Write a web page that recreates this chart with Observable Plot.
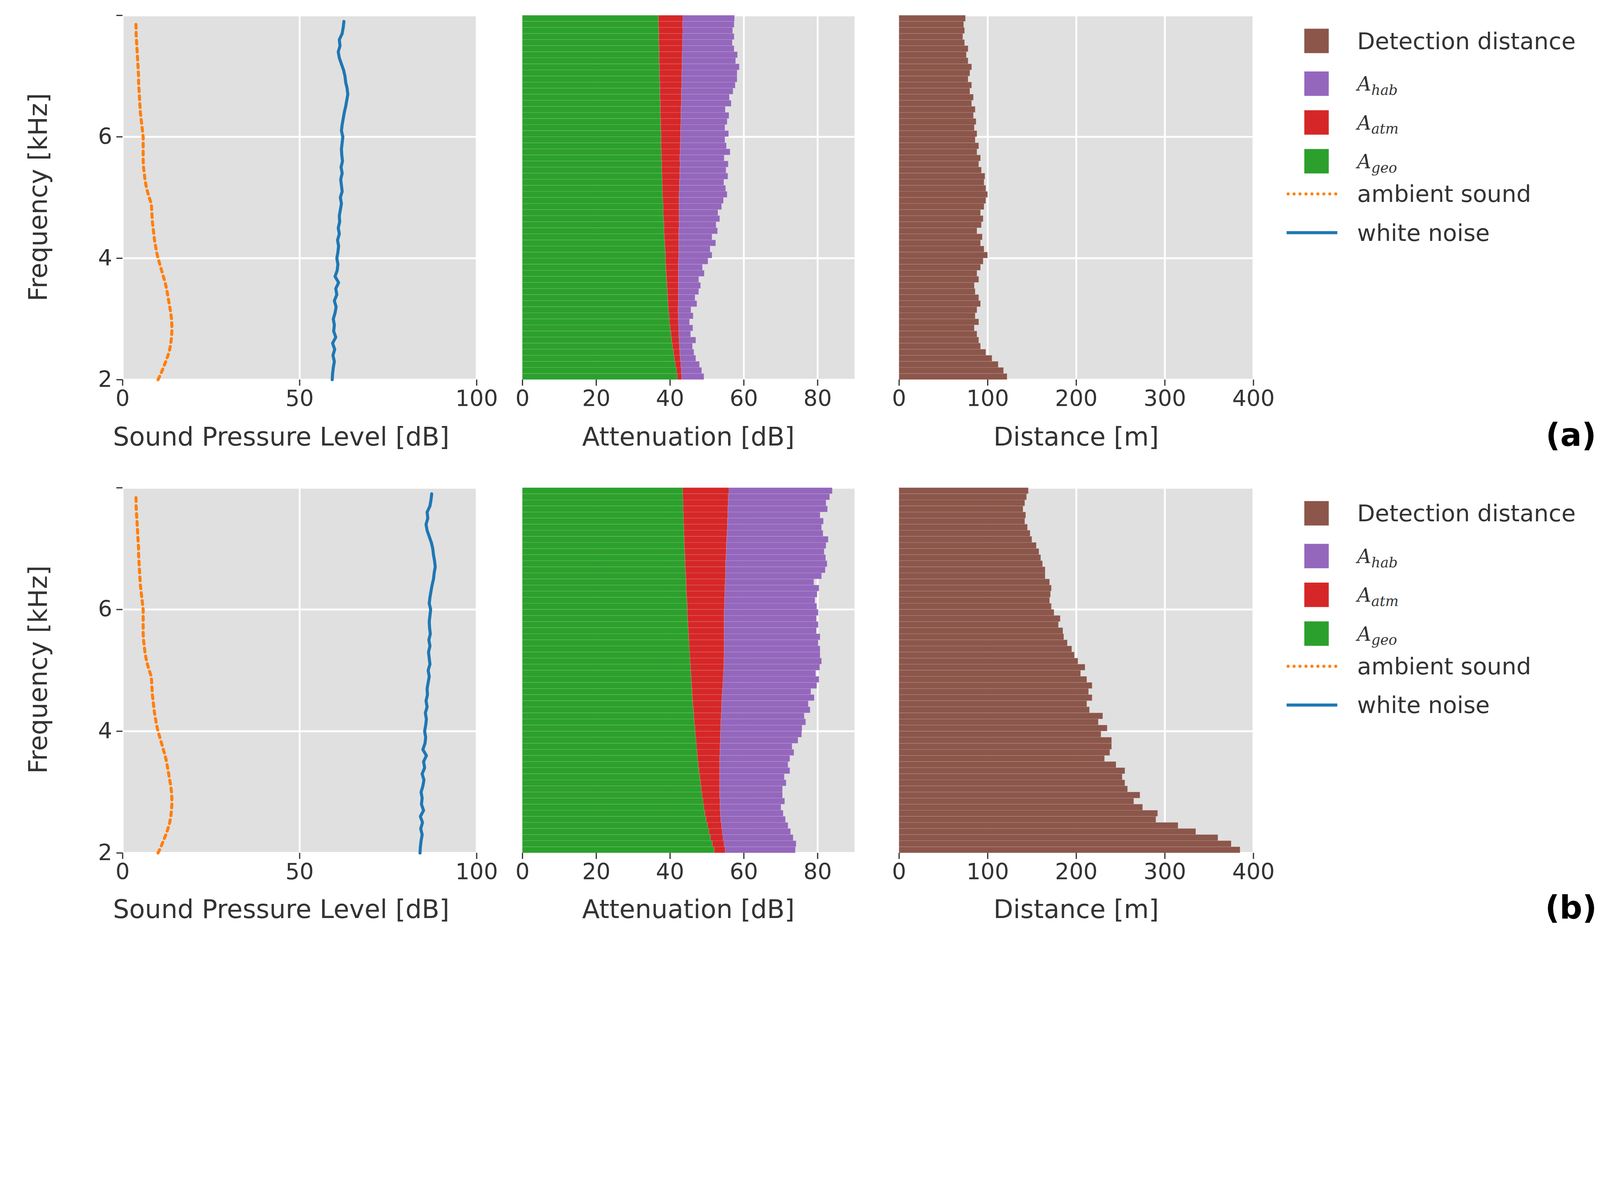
<!DOCTYPE html>
<html>
<head>
<meta charset="utf-8">
<script src="https://cdn.jsdelivr.net/npm/d3@7"></script>
<script src="https://cdn.jsdelivr.net/npm/@observablehq/plot@0.6"></script>
<style>
  html, body { margin: 0; background: #fff; font-family: "DejaVu Sans", sans-serif; color: #333; overflow: hidden; }
  #fig { position: relative; width: 5238px; height: 3068px; transform-origin: 0 0; }
  .abs { position: absolute; }
  .xl { font-size: 84px; transform: translate(-50%, -80%); white-space: nowrap; }
  .yl { font-size: 84px; transform: translate(-50%, -50%) rotate(-90deg); white-space: nowrap; }
  .lg { font-size: 76px; transform: translateY(-50%); white-space: nowrap; }
  .math { font-family: "DejaVu Serif", serif; font-style: italic; font-size: 64px; }
  .math sub { font-size: 46px; }
  .tag { font-size: 104px; font-weight: bold; color: #000; transform: translate(-50%, -50%); }
</style>
</head>
<body>
<div id="fig"></div>
<script>
// frequency bins (kHz), lower edge of each 0.1 kHz bar
const freq = [2.0,2.1,2.2,2.3,2.4,2.5,2.6,2.7,2.8,2.9,3.0,3.1,3.2,3.3,3.4,3.5,3.6,3.7,3.8,3.9,
  4.0,4.1,4.2,4.3,4.4,4.5,4.6,4.7,4.8,4.9,5.0,5.1,5.2,5.3,5.4,5.5,5.6,5.7,5.8,5.9,
  6.0,6.1,6.2,6.3,6.4,6.5,6.6,6.7,6.8,6.9,7.0,7.1,7.2,7.3,7.4,7.5,7.6,7.7,7.8,7.9]

const ambient = [10.0,10.8,11.5,12.2,12.8,13.3,13.6,13.8,13.9,13.9,13.8,13.6,13.3,13.0,12.7,12.4,12.0,11.5,11.0,10.5,
  10.0,9.6,9.3,9.0,8.8,8.6,8.4,8.3,8.2,8.1,7.5,7.0,6.6,6.3,6.1,5.9,5.8,5.8,5.8,5.8,
  5.8,5.6,5.4,5.2,5.0,4.9,4.8,4.7,4.6,4.5,4.5,4.4,4.3,4.2,4.1,4.0,3.9,3.8,3.8,3.7]

const noiseA = [59.2,59.3,59.5,59.8,59.4,59.9,59.3,60.2,59.6,59.8,59.5,60.0,60.3,59.8,60.5,60.2,61.0,60.0,60.6,60.8,
  60.5,60.8,61.0,60.7,61.2,60.9,61.3,61.2,61.5,61.8,61.5,62.0,61.8,61.6,62.0,61.7,62.1,61.9,61.8,62.0,
  62.2,61.8,62.0,62.3,62.6,63.0,63.3,63.6,63.4,63.0,62.8,62.4,61.8,61.2,60.9,61.4,61.2,62.0,62.3,62.5]
const noiseB = [84.0,84.1,84.3,84.6,84.2,84.7,84.1,85.0,84.4,84.6,84.3,84.8,85.1,84.6,85.3,85.0,85.8,84.8,85.4,85.6,
  85.3,85.6,85.8,85.5,86.0,85.7,86.1,86.0,86.3,86.6,86.3,86.8,86.6,86.4,86.8,86.5,86.9,86.7,86.6,86.8,
  87.0,86.6,86.8,87.1,87.4,87.8,88.0,88.3,88.1,87.8,87.6,87.2,86.6,86.0,85.7,86.2,86.0,86.8,87.1,87.3]

const ageoA = [42.0,41.8,41.5,41.2,41.0,40.7,40.5,40.3,40.1,39.9,39.8,39.6,39.5,39.4,39.3,39.2,39.1,39.0,38.9,38.8,
  38.8,38.7,38.6,38.5,38.4,38.4,38.3,38.2,38.2,38.1,38.0,38.0,37.9,37.9,37.8,37.8,37.7,37.7,37.6,37.6,
  37.6,37.5,37.5,37.4,37.4,37.4,37.3,37.3,37.3,37.2,37.2,37.2,37.1,37.1,37.1,37.0,37.0,37.0,36.9,36.9]
const aatmA = [1.2,1.3,1.5,1.6,1.7,1.9,2.0,2.1,2.3,2.4,2.5,2.6,2.8,2.9,3.0,3.1,3.2,3.3,3.4,3.5,
  3.6,3.7,3.8,3.9,4.0,4.1,4.2,4.3,4.3,4.4,4.5,4.6,4.7,4.8,4.9,5.0,5.0,5.1,5.2,5.3,
  5.3,5.4,5.5,5.6,5.6,5.7,5.8,5.8,5.9,6.0,6.0,6.1,6.2,6.2,6.3,6.4,6.4,6.5,6.5,6.6]
const ahabA = [6.0,5.5,5.0,4.2,3.8,3.5,4.5,3.2,3.8,3.0,4.0,3.5,5.0,4.5,5.5,6.0,5.5,7.0,6.5,8.0,
  9.0,8.5,10,9.0,10.5,10,11,10.5,11.5,12,13,12.5,12,13,12.5,13,12,13.5,12.5,12,
  13,12,12.5,13,12,13.5,13,14,14.5,15,15,15.5,14.5,15,14,13.5,14,13.5,14,14]
const distA = [122,118,112,105,98,92,90,88,85,90,86,88,92,90,86,85,90,88,92,95,
  100,96,92,94,88,93,95,92,96,98,100,98,96,97,93,90,92,88,90,86,
  88,85,87,84,86,82,84,80,82,78,80,82,78,76,78,74,72,74,73,75]

const ageoB = [52.0,51.5,51.0,50.6,50.2,49.8,49.5,49.2,49.0,48.7,48.5,48.3,48.1,47.9,47.7,47.5,47.4,47.2,47.1,46.9,
  46.8,46.6,46.5,46.4,46.2,46.1,46.0,45.9,45.8,45.7,45.6,45.5,45.4,45.3,45.2,45.1,45.0,44.9,44.8,44.7,
  44.7,44.6,44.5,44.4,44.4,44.3,44.2,44.1,44.1,44.0,43.9,43.9,43.8,43.8,43.7,43.7,43.6,43.6,43.5,43.5]
const aatmB = [3.0,3.2,3.4,3.6,3.8,4.0,4.2,4.4,4.6,4.8,5.0,5.2,5.4,5.6,5.8,6.0,6.2,6.4,6.6,6.8,
  7.0,7.2,7.4,7.6,7.8,8.0,8.2,8.4,8.6,8.8,9.0,9.1,9.3,9.4,9.5,9.6,9.7,9.8,9.9,10.0,
  10.1,10.2,10.4,10.5,10.6,10.8,10.9,11.0,11.1,11.3,11.4,11.5,11.7,11.8,11.9,12.0,12.1,12.2,12.3,12.5]
const ahabB = [19,19.5,19,18.5,18,17.5,17,16.5,17.5,17,17,18,17.5,19,18.5,19,20,19.5,21,22,
  22,23,22.5,24,23.5,25,24,25.5,26,25,26,26.5,26,26,25.5,26,25,25.5,25,25.5,
  25,24.5,25,25.5,24,26,27,27.5,27,26.5,27,27.5,26,25.5,26,25,27,26.5,27.5,28]
const distB = [385,375,360,335,315,290,292,275,265,272,258,255,252,255,245,232,238,240,240,228,
  235,225,230,215,212,218,214,218,212,205,210,202,198,195,190,186,185,180,182,175,
  172,170,171,172,170,165,165,162,160,158,155,150,148,145,142,143,140,142,144,146]

const C = {dist: "#8c564b", hab: "#9467bd", atm: "#d62728", geo: "#2ca02c", amb: "#ff7f0e", noise: "#1f77b4"}
const fig = document.getElementById("fig")
// the layout is drawn in 5238px units and scaled to the real viewport
fig.style.transform = `scale(${window.innerWidth / 5238})`
const M = 150, MT = 40
const panels = [{left: 401, w: 1159}, {left: 1710, w: 1087}, {left: 2943, w: 1160}]
const rows = [{top: 50, h: 1193, tag: "(a)"}, {top: 1597, h: 1196, tag: "(b)"}]

function panel(row, p, xdom, xticks, marks, showY) {
  const chart = Plot.plot({
    width: p.w + 2 * M, height: row.h + MT + M,
    marginLeft: M, marginRight: M, marginTop: MT, marginBottom: M,
    style: {background: "transparent", fontFamily: "DejaVu Sans", fontSize: "73px", color: "#333", overflow: "visible", maxWidth: "none"},
    x: {domain: xdom}, y: {domain: [2, 8], axis: null},
    marks: [
      Plot.frame({fill: "#e0e0e0", stroke: null}),
      Plot.gridX({ticks: xticks, stroke: "#fff", strokeOpacity: 1, strokeWidth: 6}),
      Plot.gridY({ticks: [2, 4, 6, 8], stroke: "#fff", strokeOpacity: 1, strokeWidth: 6}),
      ...marks,
      Plot.axisX({ticks: xticks, tickSize: 20, tickPadding: 14, tickFormat: d => d, label: null, strokeWidth: 4, stroke: "#333"}),
      showY ? Plot.axisY({ticks: [2, 4, 6, 8], tickSize: 20, tickPadding: 14, tickFormat: d => d === 8 ? "" : d, label: null, strokeWidth: 4, stroke: "#333"}) : null
    ]
  })
  chart.classList.add("abs")
  chart.style.left = (p.left - M) + "px"
  chart.style.top = (row.top - MT) + "px"
  fig.appendChild(chart)
}

function addDiv(cls, html, x, y) {
  const d = document.createElement("div")
  d.className = "abs " + cls
  d.innerHTML = html
  d.style.left = x + "px"; d.style.top = y + "px"
  fig.appendChild(d)
}

const sets = [
  {noise: noiseA, ageo: ageoA, aatm: aatmA, ahab: ahabA, dist: distA},
  {noise: noiseB, ageo: ageoB, aatm: aatmB, ahab: ahabB, dist: distB}
]

rows.forEach((row, r) => {
  const s = sets[r]
  const lines = freq.map((f, i) => ({f, amb: ambient[i], noise: s.noise[i]}))
  const att = []
  freq.forEach((f, i) => {
    att.push({f, k: "geo", v: s.ageo[i]})
    att.push({f, k: "atm", v: s.aatm[i]})
    att.push({f, k: "hab", v: s.ahab[i]})
  })
  const dist = freq.map((f, i) => ({f, v: s.dist[i]}))
  const edge = {stroke: "#fff", strokeOpacity: 0.12, strokeWidth: 2}

  panel(row, panels[0], [0, 100], [0, 50, 100], [
    Plot.lineX(lines, {x: "amb", y: "f", stroke: C.amb, strokeWidth: 10, strokeDasharray: "12,14"}),
    Plot.lineX(lines, {x: "noise", y: "f", stroke: C.noise, strokeWidth: 10})
  ], true)

  panel(row, panels[1], [0, 90], [0, 20, 40, 60, 80], [
    Plot.rectX(att, Plot.stackX({order: ["geo", "atm", "hab"]}, {x: "v", y1: "f", y2: d => d.f + 0.1, z: "k",
      fill: d => C[d.k], ...edge}))
  ], false)

  panel(row, panels[2], [0, 400], [0, 100, 200, 300, 400], [
    Plot.rectX(dist, {x1: 0, x2: "v", y1: "f", y2: d => d.f + 0.1, fill: C.dist, ...edge})
  ], false)

  const off = row.top - 50
  addDiv("xl", "Sound Pressure Level [dB]", 401 + 1159 / 2 - 60, 1460 + off)
  addDiv("xl", "Attenuation [dB]", 1710 + 1087 / 2, 1460 + off)
  addDiv("xl", "Distance [m]", 2943 + 1160 / 2, 1460 + off)
  addDiv("yl", "Frequency [kHz]", 124, 646 + off)
  addDiv("tag", row.tag, 5143, 1425 + off)

  const legend = [
    {y: 134, type: "patch", c: C.dist, t: "Detection distance"},
    {y: 274, type: "patch", c: C.hab, t: '<span class="math">A<sub>hab</sub></span>'},
    {y: 401, type: "patch", c: C.atm, t: '<span class="math">A<sub>atm</sub></span>'},
    {y: 528, type: "patch", c: C.geo, t: '<span class="math">A<sub>geo</sub></span>'},
    {y: 635, type: "dot", c: C.amb, t: "ambient sound"},
    {y: 762, type: "line", c: C.noise, t: "white noise"}
  ]
  legend.forEach(e => {
    const y = e.y + off
    const d = document.createElement("div")
    d.className = "abs"
    if (e.type === "patch") {
      Object.assign(d.style, {left: "4270px", top: (y - 40) + "px", width: "80px", height: "80px", background: e.c})
    } else {
      Object.assign(d.style, {left: "4212px", top: (y - 5) + "px", width: "166px", height: "0px",
        borderTop: "10px " + (e.type === "dot" ? "dotted " : "solid ") + e.c})
    }
    fig.appendChild(d)
    addDiv("lg", e.t, 4443, y)
  })
})
</script>
</body>
</html>
